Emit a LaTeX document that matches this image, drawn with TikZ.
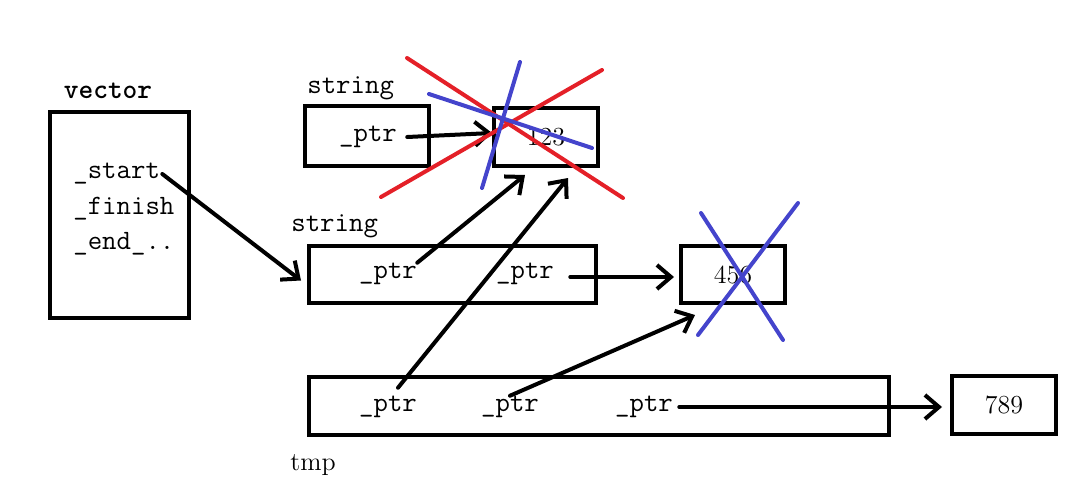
\documentclass[tikz,border=0pt]{standalone}
\usetikzlibrary{arrows.meta}
\definecolor{xred}{RGB}{228,32,40}
\definecolor{xblue}{RGB}{68,68,204}
\begin{document}
\begin{tikzpicture}[x=0.5pt, y=-0.5pt, >={Straight Barb[length=7pt, width=12pt]},
    box/.style 2 args={draw, line width=2pt, inner sep=0pt, minimum width=#1*0.5pt, minimum height=#2*0.5pt},
    tt/.style={font=\ttfamily\fontsize{14}{16}\selectfont, inner sep=0pt},
    rm/.style={font=\rmfamily\fontsize{13}{16}\selectfont, inner sep=0pt},
    ptr/.style={->, line width=2pt, line cap=round},
    cross/.style={line width=2pt, line cap=round, draw=#1}]
      \useasboundingbox (0,0) rectangle (1080,477);
      \node[box={139}{206}] (vec) at (119.5,215) {};
      \node[box={124}{60}] (str1) at (367,136) {};
      \node[box={104}{58}, rm] (s123) at (546,137) {123};
      \node[box={287}{57}] (str2) at (452.5,274.5) {};
      \node[box={104}{57}, rm] (s456) at (733,274.5) {456};
      \node[box={580}{58}] (tmp) at (599,406) {};
      \node[box={104}{58}, rm] (s789) at (1004,405) {789};
      \node[tt] (lvec) at (108,91) {\bfseries vector};
      \node[tt, anchor=west] (lstr1) at (307,88) {string};
      \node[tt, anchor=west] (lstr2) at (291,226) {string};
      \node[rm, anchor=west] (ltmp) at (290,465) {tmp};
      \node[tt, anchor=west] (vstart) at (73,174) {\_start};
      \node[tt, anchor=west] (vfinish) at (73,209) {\_finish};
      \node[tt, anchor=west] (vend) at (73,244) {\_end\_..};
      \node[tt] (p1) at (368,137) {\_ptr};
      \node[tt] (q1) at (388,274) {\_ptr};
      \node[tt] (q2) at (525,274) {\_ptr};
      \node[tt] (t1) at (388,407) {\_ptr};
      \node[tt] (t2) at (510,407) {\_ptr};
      \node[tt] (t3) at (644,407) {\_ptr};
      \draw[ptr] ([xshift=1pt]vstart.east) -- ([shift={(-6,6)}]str2.west);
      \draw[ptr] ([xshift=5pt]p1.east) -- ([shift={(0,-4)}]s123.west);
      \draw[ptr] (q1.north east) -- ([shift={(-21,7)}]s123.south);
      \draw[ptr] ([shift={(16,3)}]q2.east) -- ([shift={(-5,2.5)}]s456.west);
      \draw[ptr] ([shift={(10,-8)}]t1.north) -- ([shift={(22,10)}]s123.south);
      \draw[ptr] (t2.north) -- ([shift={(-38,10)}]s456.south);
      \draw[ptr] ([xshift=3pt]t3.east) -- ([xshift=-4pt]s789.west |- t3.east);
      \draw[cross=xred] (407,58) -- (623,198);
      \draw[cross=xred] (381,197) -- (602,70);
      \draw[cross=xblue] (429,94) -- (592,148);
      \draw[cross=xblue] (520,62) -- (482,188);
      \draw[cross=xblue] (701,213) -- (783,340);
      \draw[cross=xblue] (798,203) -- (698,335);
    \end{tikzpicture}
\end{document}
